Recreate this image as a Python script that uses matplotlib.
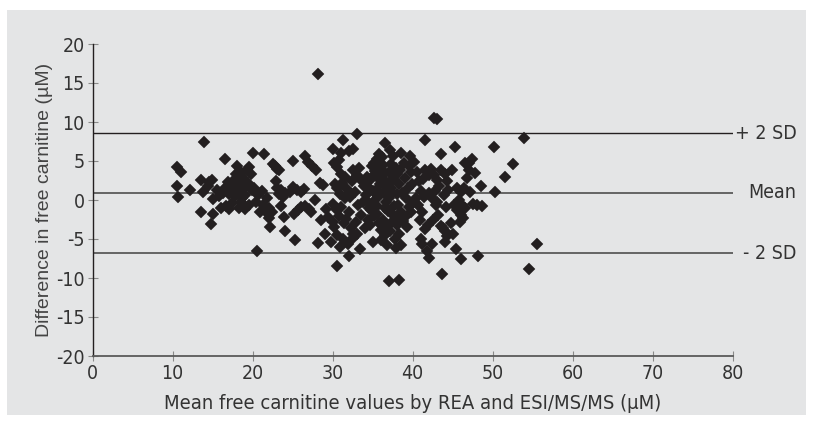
import matplotlib.pyplot as plt
from matplotlib.patches import Rectangle

# Bland-Altman data (mean, difference)
mean_10_16 = [10.6, 11.0, 10.5, 10.7, 12.2, 13.6, 13.8, 13.9, 13.5, 14.4, 14.6, 14.9, 15.0, 15.0, 14.8, 15.5, 16.0, 15.8]
diff_10_16 = [4.2, 3.6, 1.8, 0.4, 1.3, 2.6, 1.0, 7.5, -1.5, 1.8, 2.3, 2.6, 0.1, -1.8, -3.1, 1.3, -1.0, 0.5]

mean_16_20 = [16.6, 16.5, 16.7, 17.0, 17.0, 17.3, 17.6, 17.8, 17.9, 18.1, 18.2, 18.4, 18.5, 18.6, 18.8,
              18.9, 19.0, 19.1, 19.3, 19.4, 19.6, 19.8, 19.9, 17.4, 16.9, 18.0, 17.6, 18.7, 19.5, 16.3, 18.3]
diff_16_20 = [5.3, 1.5, -0.8, -1.2, 0.8, 1.7, 2.5, 0.5, 3.3, 4.4, 2.0, 1.2, 3.6, -0.2, 2.8,
              1.5, -1.2, 0.6, 3.9, 2.2, 4.2, 3.3, 1.3, -0.4, 2.3, 1.9, 1.1, 0.3, -0.6, 0.9, -1.0]

mean_20_24 = [20.0, 21.4, 20.2, 20.4, 20.7, 20.9, 21.2, 21.3, 21.6, 21.8, 22.0, 22.1, 22.2, 22.5, 22.8,
              23.1, 23.3, 22.9, 23.0, 23.3, 23.6, 23.8, 24.0, 23.5, 23.9, 24.0, 22.4, 20.6]
diff_20_24 = [6.0, 5.9, 1.6, -0.2, 0.6, -1.5, 1.2, -0.6, -1.4, 0.3, -1.0, -2.3, -3.4, 4.6, 4.3,
              4.0, 3.8, 2.5, 1.6, 0.8, 1.3, 0.4, 0.9, -0.8, -2.2, -4.0, -1.5, -6.6]

mean_24_29 = [25.0, 26.5, 26.9, 27.4, 27.9, 25.1, 25.5, 26.0, 26.4, 25.2, 25.7, 26.1, 26.6, 27.3, 27.8,
              28.4, 28.8, 28.6, 29.2, 29.0, 25.3, 28.2, 29.4, 28.2, 27.1, 24.7]
diff_24_29 = [5.0, 5.7, 4.9, 4.4, 3.8, 1.7, 1.3, 1.0, 1.4, -1.8, -1.3, -0.9, -0.8, -1.6, 0.0,
              2.2, 1.9, -2.6, -1.1, -4.4, -5.1, -5.5, -2.2, 16.2, -1.2, 1.0]

mean_29_34 = [30.0, 31.3, 32.0, 32.5, 33.0, 30.2, 30.5, 30.8, 31.0, 31.5, 30.3, 30.6, 30.9, 31.2, 31.8,
              32.2, 32.6, 33.0, 33.3, 33.6, 30.1, 30.4, 30.8, 31.1, 31.4, 31.7, 32.0, 32.3, 32.6, 32.9,
              33.2, 33.5, 33.8, 30.2, 30.6, 30.9, 31.3, 31.9, 32.1, 32.5, 33.4, 30.6, 29.8, 30.0, 31.6,
              32.8, 33.9, 31.0, 33.1, 32.4]
diff_29_34 = [6.6, 7.7, 6.3, 6.6, 8.4, 4.8, 4.2, 5.1, 3.3, 2.9, 2.0, 1.6, 0.8, 2.2, 1.4,
              0.4, 3.8, 3.2, 4.1, 2.6, -0.5, -1.2, -2.1, -0.9, -3.0, -2.4, -1.6, -3.6, -4.3, -2.8,
              -0.7, -1.9, -0.3, -3.4, -4.5, -6.0, -5.0, -5.7, -7.2, -4.9, -6.3, -8.4, -5.4, -2.8, 0.2,
              1.0, 1.8, 6.0, -4.4, 2.4]

mean_34_40 = [36.6, 35.8, 35.6, 35.9, 36.1, 35.3, 35.0, 34.6, 34.3, 34.2, 34.5, 34.8, 34.4, 34.1, 34.7,
              35.2, 35.5, 35.7, 35.4, 35.9, 36.2, 36.5, 36.4, 36.7, 36.9, 36.3, 36.0, 36.5, 36.8, 37.2,
              37.4, 37.6, 37.1, 37.3, 37.5, 37.0, 37.3, 37.5, 37.9, 38.1, 38.3, 38.0, 38.2, 38.5, 38.0,
              38.3, 38.6, 37.8, 38.5, 38.9, 39.1, 39.4, 39.2, 39.6, 39.0, 39.3, 39.7, 39.8, 39.9, 40.0,
              35.1, 35.8, 36.6, 37.7, 38.7, 36.2, 34.9, 37.0, 38.3, 35.5, 36.8, 38.8, 39.5, 34.3, 37.9,
              36.1, 35.3, 39.8, 37.2, 38.4, 35.0, 36.0, 36.9, 35.6, 37.4, 34.6, 36.3, 38.1, 35.2, 36.5]
diff_34_40 = [7.3, 5.9, 5.2, 4.6, 4.0, 3.7, 3.1, 2.5, 1.8, 0.6, -0.4, -1.3, -2.6, -3.6, -3.2,
              -2.1, -0.8, 0.5, 1.3, 2.0, 3.1, 2.4, 1.0, -0.3, -1.4, -2.5, -3.9, -4.5, -5.8, -4.0,
              -2.8, -1.9, 0.3, 1.5, 2.7, 3.6, 4.6, 5.6, 4.1, 3.3, 2.1, 0.8, -0.6, -1.5, -3.2,
              -4.4, -5.8, -5.0, 6.0, 4.8, 2.8, 1.5, 0.3, -0.9, -2.2, -3.4, 5.7, 3.6, 2.1, -0.2,
              -5.4, -3.0, -1.0, -0.8, 0.9, 5.5, 4.3, -10.4, -10.2, 2.9, 1.7, -2.7, 4.4, 3.0, -6.2,
              -5.1, 0.0, -1.6, 6.4, 3.9, 1.2, 0.8, 2.2, -1.8, 0.9, -1.0, 4.5, -2.0, 4.8, -3.3]

mean_40_44 = [40.2, 41.6, 43.6, 42.7, 43.0, 40.5, 40.8, 41.0, 40.4, 40.7, 41.2, 41.5, 41.9, 41.0, 41.2,
              41.8, 42.0, 42.4, 42.6, 42.9, 43.2, 43.5, 43.8, 44.1, 44.3, 44.0, 43.7, 41.6, 42.0, 42.3,
              42.7, 43.0, 43.3, 43.6, 44.0, 44.3, 41.4, 42.1, 42.5, 43.1, 43.9, 44.2, 44.4, 40.9, 42.8,
              41.3]
diff_40_44 = [4.9, 7.7, 5.9, 10.5, 10.4, 3.6, 2.4, 1.2, 0.3, -0.7, -1.6, -3.7, -3.2, -5.0, -5.6,
              -6.5, -7.4, -5.6, -2.6, -0.7, -1.9, -3.3, -3.6, -4.0, -4.6, -5.4, -9.5, 3.8, 3.2, 4.0,
              3.2, 2.6, 1.8, 3.9, 3.3, 2.4, 0.4, 0.9, 0.1, -0.3, 0.6, -0.9, 1.3, -2.6, 1.1,
              2.7]

mean_44_48 = [45.3, 44.9, 45.5, 45.8, 45.2, 45.6, 46.0, 46.3, 46.6, 46.1, 46.4, 46.8, 47.1, 47.0, 47.4,
              46.5, 46.2, 47.2, 47.6, 45.4, 46.1, 44.8, 45.0, 45.9, 47.8]
diff_44_48 = [6.8, 3.8, 1.5, 0.0, -0.6, -1.3, -1.9, -2.3, -1.0, 1.0, 1.6, 2.8, 3.9, 4.8, 5.2,
              4.7, -0.7, 1.0, -0.5, -6.3, -7.5, -2.9, -4.4, -2.8, 3.5]

mean_48_56 = [48.2, 48.0, 48.7, 48.6, 50.2, 50.3, 51.6, 52.5, 53.9, 55.5, 54.6]
diff_48_56 = [-7.2, -0.6, -0.8, 1.8, 6.8, 1.0, 3.0, 4.6, 7.9, -5.7, -8.8]

mean_vals = (mean_10_16 + mean_16_20 + mean_20_24 + mean_24_29 + mean_29_34
             + mean_34_40 + mean_40_44 + mean_44_48 + mean_48_56)
diff_vals = (diff_10_16 + diff_16_20 + diff_20_24 + diff_24_29 + diff_29_34
             + diff_34_40 + diff_40_44 + diff_44_48 + diff_48_56)

# limits of agreement
mean_line = 0.95
upper_sd = 8.55
lower_sd = -6.8

BG = "#e4e5e6"
narrow = dict(family="DejaVu Sans", stretch="condensed")
plt.rcParams["axes.unicode_minus"] = False

fig = plt.figure(figsize=(8.13, 4.26), dpi=100)
fig.patches.append(Rectangle((7 / 813, 11 / 426), 799 / 813, 405 / 426,
                             transform=fig.transFigure, facecolor=BG,
                             edgecolor="none", zorder=-10))
ax = fig.add_axes([92.5 / 813, 1 - 356 / 426, 640 / 813, 312 / 426])
ax.set_facecolor(BG)

ax.axhline(upper_sd, color="#231f20", lw=1.0, zorder=1)
ax.axhline(mean_line, color="#5a5a5a", lw=1.3, zorder=1)
ax.axhline(lower_sd, color="#5a5a5a", lw=1.3, zorder=1)

ax.plot(mean_vals, diff_vals, ls="none", marker="D", ms=6.6,
        color="#231f20", mec="#231f20", mew=0.3, zorder=3, clip_on=False)

for yv, label in [(upper_sd, "+ 2 SD"), (mean_line, "Mean"), (lower_sd, "- 2 SD")]:
    ax.text(1.1, yv, label, transform=ax.get_yaxis_transform(), ha="right",
            va="center", fontsize=14, color="#333333", **narrow)

ax.set_xlim(0, 80)
ax.set_ylim(-20, 20)
ax.set_xticks(range(0, 81, 10))
ax.set_yticks(range(-20, 21, 5))

for side in ["top", "right"]:
    ax.spines[side].set_visible(False)
ax.spines["left"].set_color("#231f20")
ax.spines["left"].set_linewidth(1.0)
ax.spines["bottom"].set_color("#5a5a5a")
ax.spines["bottom"].set_linewidth(1.3)

ax.tick_params(direction="inout", length=7, width=0.8, color="#8a8a8a",
               labelsize=14, labelcolor="#333333", pad=2)
for lab in ax.get_xticklabels() + ax.get_yticklabels():
    lab.set_family(narrow["family"])
    lab.set_stretch(narrow["stretch"])

ax.set_xlabel("Mean free carnitine values by REA and ESI/MS/MS (µM)",
              fontsize=14.5, color="#333333", labelpad=8, **narrow)
ax.set_ylabel("Difference in free carnitine (µM)", fontsize=14,
              color="#444444", family=["Liberation Sans", "DejaVu Sans"], labelpad=2)

fig.savefig("out.png", dpi=100, facecolor="white")
